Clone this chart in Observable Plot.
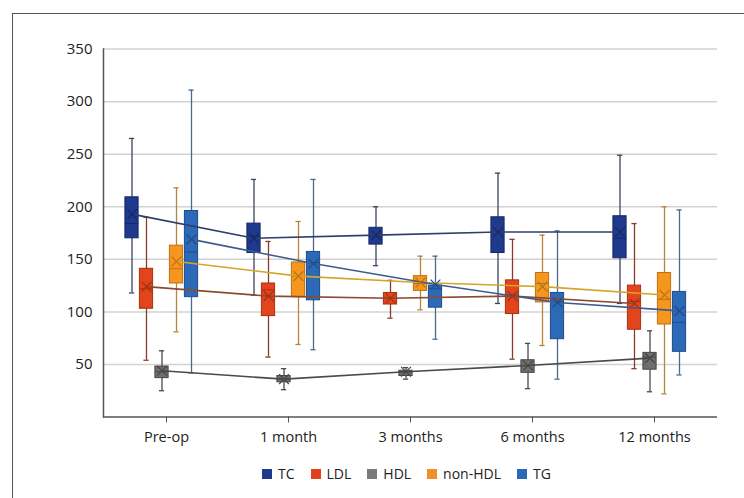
<!DOCTYPE html>
<html>
<head>
<meta charset="utf-8">
<script src="https://cdn.jsdelivr.net/npm/d3@7"></script>
<script src="https://cdn.jsdelivr.net/npm/@observablehq/plot@0.6"></script>
<style>
  html, body { margin: 0; padding: 0; background: #fff; }
  #wrap { position: relative; width: 744px; height: 498px; overflow: hidden; font-family: "Open Sans", sans-serif; }
  #frame { position: absolute; left: 12px; top: 13px; width: 900px; height: 700px; border-top: 1.5px solid #555; border-left: 1.5px solid #555; pointer-events: none; }
  #chart { position: absolute; left: 0; top: 0; }
  #legend { position: absolute; left: 262px; top: 464px; display: flex; align-items: center; font-size: 14px; color: #222; }
  #legend .item { display: flex; align-items: center; margin-right: 16px; }
  #legend .sw { width: 10px; height: 10px; margin-right: 6px; }
</style>
</head>
<body>
<div id="wrap">
  <div id="chart"></div>
  <div id="frame"></div>
  <div id="legend"></div>
</div>
<script>
const categories = ["Pre-op", "1 month", "3 months", "6 months", "12 months"];
const seriesNames = ["TC", "LDL", "HDL", "non-HDL", "TG"];
const yTicks = [50, 100, 150, 200, 250, 300, 350];

const tcMin    = [118, 116, 144, 108, 108];
const tcQ1     = [170, 156, 164, 156, 151];
const tcMedian = [184, 172, 172, 176, 170];
const tcQ3     = [209, 184, 180, 190, 191];
const tcMax    = [265, 226, 200, 232, 249];
const tcMean   = [193, 170, 173, 176, 176];

const ldlMin    = [54, 57, 94, 55, 46];
const ldlQ1     = [103, 96, 107, 98, 83];
const ldlMedian = [122, 121, 113, 116, 110];
const ldlQ3     = [141, 127, 118, 130, 125];
const ldlMax    = [190, 167, 130, 169, 184];
const ldlMean   = [124, 115, 113, 115, 108];

const hdlMin    = [25, 26, 36, 27, 24];
const hdlQ1     = [37, 33, 39, 42, 45];
const hdlMedian = [43, 36, 43, 49, 57];
const hdlQ3     = [48, 39, 44, 54, 61];
const hdlMax    = [63, 46, 47, 70, 82];
const hdlMean   = [44, 36, 43, 49, 56];

const nonMin    = [81, 69, 102, 68, 22];
const nonQ1     = [127, 114, 120, 109, 88];
const nonMedian = [141, 134, 127, 127, 112];
const nonQ3     = [163, 147, 134, 137, 137];
const nonMax    = [218, 186, 153, 173, 200];
const nonMean   = [148, 134, 128, 124, 116];

const tgMin    = [42, 64, 74, 36, 40];
const tgQ1     = [114, 111, 104, 74, 62];
const tgMedian = [157, 147, 122, 110, 90];
const tgQ3     = [196, 157, 125, 118, 119];
const tgMax    = [311, 226, 153, 177, 197];
const tgMean   = [169, 146, 126, 109, 101];

const stats = {
  "TC":      [tcMin, tcQ1, tcMedian, tcQ3, tcMax, tcMean],
  "LDL":     [ldlMin, ldlQ1, ldlMedian, ldlQ3, ldlMax, ldlMean],
  "HDL":     [hdlMin, hdlQ1, hdlMedian, hdlQ3, hdlMax, hdlMean],
  "non-HDL": [nonMin, nonQ1, nonMedian, nonQ3, nonMax, nonMean],
  "TG":      [tgMin, tgQ1, tgMedian, tgQ3, tgMax, tgMean]
};

// styles per series
const style = {
  "TC":      {fill: "#1f3a8c", outline: "#15286a", whisker: "#3a465f", line: "#2f3f6c", legend: "#1f3a8c", dx: -34.5},
  "LDL":     {fill: "#e2441c", outline: "#a8300f", whisker: "#8a3a28", line: "#8c4a32", legend: "#e0401e", dx: -20},
  "HDL":     {fill: "#6e6e6e", outline: "#474747", whisker: "#4a4a4a", line: "#4a4a4a", legend: "#7a7a7a", dx: -4.5},
  "non-HDL": {fill: "#f5961f", outline: "#c06f12", whisker: "#b7843c", line: "#d6a42a", legend: "#f0902a", dx: 10},
  "TG":      {fill: "#2c69b6", outline: "#1d4c8c", whisker: "#4a6a8c", line: "#3d5d8c", legend: "#2a6ab5", dx: 25}
};

const rows = [];
for (const s of seriesNames) {
  const [mn, q1, md, q3, mx, mean] = stats[s];
  categories.forEach((c, i) => rows.push({series: s, cat: c, min: mn[i], q1: q1[i], median: md[i], q3: q3[i], max: mx[i], mean: mean[i]}));
}

const W = 744, ML = 103, MR = 27;
const bw = (W - ML - MR) / categories.length;
const boxInset = bw / 2 - 7;
const capInset = bw / 2 - 3;
const marks = [
  Plot.ruleY(yTicks, {stroke: "#d2d2d2", strokeWidth: 1.5}),
  Plot.ruleY([0], {stroke: "#555", strokeWidth: 1.5}),
  Plot.frame({anchor: "left", stroke: "#555", strokeWidth: 1.5}),
  Plot.axisX({tickSize: 6, tickPadding: 9, fontSize: 14.5, label: null, stroke: "#555", color: "#222"}),
  Plot.axisY({ticks: yTicks, tickSize: 0, tickPadding: 11, fontSize: 15, label: null, color: "#222"})
];
for (const s of seriesNames) {
  const st = style[s];
  const d = rows.filter(r => r.series === s);
  marks.push(
    Plot.ruleX(d, {x: "cat", y1: "min", y2: "max", dx: st.dx, stroke: st.whisker, strokeWidth: 1.3}),
    Plot.tickY(d, {x: "cat", y: "min", dx: st.dx, insetLeft: capInset, insetRight: capInset, stroke: st.whisker, strokeWidth: 1.3}),
    Plot.tickY(d, {x: "cat", y: "max", dx: st.dx, insetLeft: capInset, insetRight: capInset, stroke: st.whisker, strokeWidth: 1.3}),
    Plot.barY(d, {x: "cat", y1: "q1", y2: "q3", dx: st.dx, insetLeft: boxInset, insetRight: boxInset, fill: st.fill, stroke: st.outline, strokeWidth: 1}),
    Plot.tickY(d, {x: "cat", y: "median", dx: st.dx, insetLeft: boxInset, insetRight: boxInset, stroke: st.outline, strokeWidth: 1})
  );
}
for (const s of seriesNames) {
  const st = style[s];
  const d = rows.filter(r => r.series === s);
  marks.push(
    Plot.line(d, {x: "cat", y: "mean", dx: st.dx, stroke: st.line, strokeWidth: 1.6})
  );
}
for (const s of seriesNames) {
  const st = style[s];
  const d = rows.filter(r => r.series === s);
  marks.push(
    Plot.dot(d, {x: "cat", y: "mean", dx: st.dx, symbol: "times", r: 4.5, stroke: st.outline, strokeWidth: 1.2})
  );
}

const chart = Plot.plot({
  width: W,
  height: 455,
  marginLeft: ML,
  marginRight: MR,
  marginTop: 48.6,
  marginBottom: 38.5,
  style: {fontFamily: "'Open Sans', sans-serif", background: "transparent", color: "#222"},
  x: {type: "band", domain: categories, padding: 0},
  y: {domain: [0, 350]},
  marks
});
document.getElementById("chart").appendChild(chart);

const legend = document.getElementById("legend");
for (const s of seriesNames) {
  const item = document.createElement("div");
  item.className = "item";
  const sw = document.createElement("div");
  sw.className = "sw";
  sw.style.background = style[s].legend;
  const t = document.createElement("span");
  t.textContent = s;
  item.appendChild(sw);
  item.appendChild(t);
  legend.appendChild(item);
}
</script>
</body>
</html>
